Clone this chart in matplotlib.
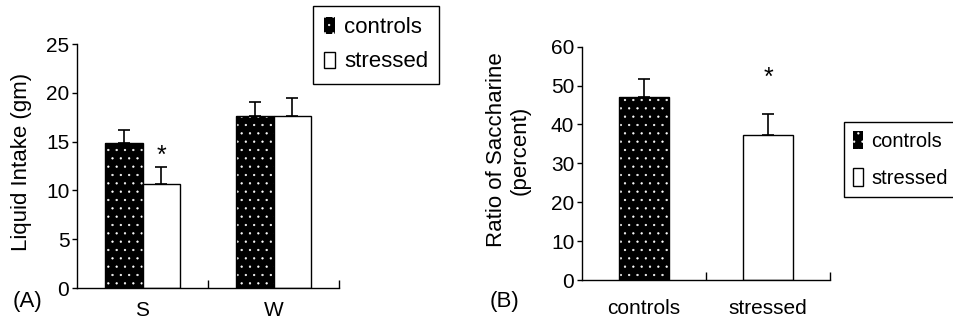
import numpy as np
import matplotlib
matplotlib.use("Agg")
import matplotlib.pyplot as plt
from matplotlib.patches import Patch

plt.rcParams['font.family'] = ['Liberation Sans', 'DejaVu Sans']
plt.rcParams['hatch.linewidth'] = 0.4

# Panel A data: liquid intake (gm)
groups_a = ['S', 'W']
controls_a = [14.9, 17.6]
controls_a_err = [1.3, 1.5]
stressed_a = [10.7, 17.6]
stressed_a_err = [1.7, 1.9]

# Panel B data: ratio of saccharine (percent)
groups_b = ['controls', 'stressed']
ratio_b = [47.0, 37.4]
ratio_b_err = [4.6, 5.2]

W, H = 954, 320
fig = plt.figure(figsize=(W / 100, H / 100), dpi=100)

FS = 15   # tick labels
TS = 16   # titles, legend


def style_axes(ax, ylim, yticks, pad):
    for s in ['top', 'right']:
        ax.spines[s].set_visible(False)
    for s in ['left', 'bottom']:
        ax.spines[s].set_linewidth(1.0)
    ax.set_xlim(-0.5, 1.5)
    ax.set_ylim(*ylim)
    ax.set_yticks(yticks)
    ax.tick_params(axis='y', direction='out', length=3.5, width=1, labelsize=FS, pad=2)
    ax.set_xticks([0.5, 1.5], minor=True)
    ax.tick_params(axis='x', which='minor', direction='in', length=6, width=1)
    ax.tick_params(axis='x', which='major', length=0, labelsize=FS, pad=pad)


def dotted_bar(ax, x, h, w):
    ax.bar(x, h, w, color='black', edgecolor='white', hatch='..', linewidth=0)
    ax.bar(x, h, w, fill=False, edgecolor='black', linewidth=1)


def up_err(ax, x, h, e):
    ax.errorbar(x, h, yerr=[np.zeros(len(e)), e], fmt='none', ecolor='black',
                elinewidth=1.2, capsize=4.5, capthick=1.2)


# ---- Panel A ----
ax1 = fig.add_axes([77 / W, 32 / H, 262 / W, 244 / H])
xa = np.arange(len(groups_a))
bw = 0.29
dotted_bar(ax1, xa - bw / 2, controls_a, bw)
ax1.bar(xa + bw / 2, stressed_a, bw, color='white', edgecolor='black', linewidth=1)
up_err(ax1, xa - bw / 2, controls_a, controls_a_err)
up_err(ax1, xa + bw / 2, stressed_a, stressed_a_err)
ax1.text(xa[0] + bw / 2, 13.5, '*', ha='center', va='center', fontsize=TS + 2)
style_axes(ax1, (0, 25), [0, 5, 10, 15, 20, 25], pad=9)
ax1.set_xticks(xa)
ax1.set_xticklabels(groups_a)

# ---- Panel B ----
ax2 = fig.add_axes([582 / W, 40 / H, 248 / W, 233.3 / H])
xb = np.arange(len(groups_b))
bw2 = 0.40
dotted_bar(ax2, xb[0], ratio_b[0], bw2)
ax2.bar(xb[1], ratio_b[1], bw2, color='white', edgecolor='black', linewidth=1)
up_err(ax2, xb, ratio_b, ratio_b_err)
ax2.text(xb[1], 52.0, '*', ha='center', va='center', fontsize=TS + 2)
style_axes(ax2, (0, 60), [0, 10, 20, 30, 40, 50, 60], pad=14)
ax2.set_xticks(xb)
ax2.set_xticklabels(groups_b)

# axis titles and panel letters
fig.text(22 / W, 1 - 162 / H, 'Liquid Intake (gm)', rotation=90,
         ha='center', va='center', fontsize=TS)
fig.text(508 / W, 1 - 150 / H, 'Ratio of Saccharine\n(percent)', rotation=90,
         ha='center', va='center', fontsize=TS, multialignment='center',
         linespacing=1.15)
fig.text(28 / W, 1 - 301 / H, '(A)', ha='center', va='center', fontsize=TS)
fig.text(505 / W, 1 - 301 / H, '(B)', ha='center', va='center', fontsize=TS)

# legends
handles = [Patch(facecolor='black', edgecolor='white', hatch='..', linewidth=0),
           Patch(facecolor='white', edgecolor='black', linewidth=1)]
labels = ['controls', 'stressed']
for (lx, ly, fs, hh, sp, bp) in [(313, 6, TS, 0.75, 0.6, 0.5),
                                 (844, 122, 14.5, 1.0, 0.85, 0.45)]:
    leg = fig.legend(handles, labels, loc='upper left',
                     bbox_to_anchor=(lx / W, 1 - ly / H), borderaxespad=0,
                     fontsize=fs, frameon=True, fancybox=False,
                     edgecolor='black', framealpha=1, handlelength=0.5,
                     handleheight=hh, handletextpad=0.4, labelspacing=sp,
                     borderpad=bp)
    leg.get_frame().set_linewidth(1.0)

fig.savefig('out.png', dpi=100)
